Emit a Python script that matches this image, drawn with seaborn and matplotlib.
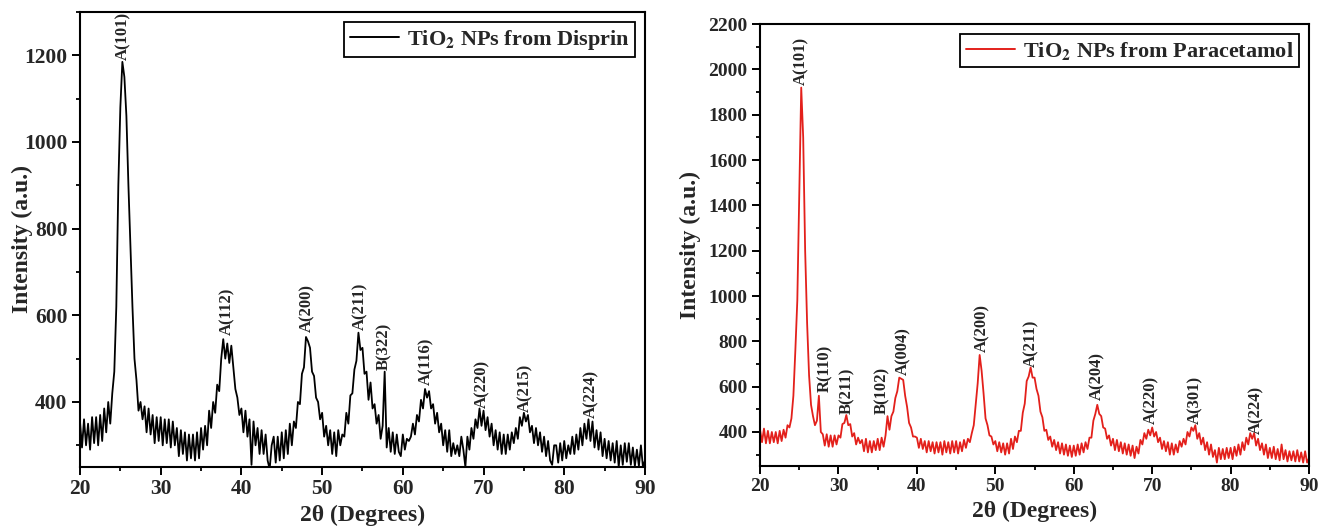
import matplotlib.pyplot as plt
import seaborn as sns
import numpy as np
import pandas as pd

# XRD patterns of TiO2 NPs, values every 0.25 degree (20 -> 90)
two_theta = np.linspace(20, 90, 281)

disprin = [
    355, 295, 360, 300,  350, 290, 365, 305,  365, 300, 370, 310,  385, 330, 400, 350,   # 20-23
    420, 470, 620, 900,  1080, 1185, 1150, 1060,  900, 760, 620, 500,  450, 380, 400, 360,  # 24-27
    390, 330, 385, 325,  370, 305, 365, 310,  365, 300, 360, 305,  360, 295, 355, 300,   # 28-31
    340, 275, 335, 280,  330, 265, 325, 270,  325, 265, 330, 270,  340, 290, 345, 300,   # 32-35
    380, 340, 400, 375,  440, 425, 500, 545,  500, 535, 490, 530,  480, 430, 410, 370,   # 36-39
    385, 330, 380, 320,  360, 255, 355, 300,  340, 280, 335, 280,  325, 265, 245, 300,   # 40-43
    320, 260, 320, 265,  330, 270, 335, 280,  350, 300, 355, 340,  400, 395, 465, 480,   # 44-47
    550, 540, 525, 470,  460, 410, 400, 360,  375, 320, 345, 300,  335, 280, 330, 275,   # 48-51
    335, 300, 325, 320,  375, 350, 415, 420,  475, 495, 560, 520,  525, 465, 470, 405,   # 52-55
    445, 385, 395, 350,  370, 315, 345, 470,  295, 340, 285, 330,  280, 325, 285, 275,   # 56-59
    325, 290, 315, 310,  320, 350, 325, 370,  355, 405, 385, 430,  410, 425, 385, 395,   # 60-63
    350, 375, 330, 350,  300, 335, 285, 335,  275, 305, 280, 300,  275, 320, 290, 250,   # 64-67
    320, 290, 340, 315,  360, 340, 385, 345,  380, 335, 365, 320,  350, 300, 335, 290,   # 68-71
    330, 280, 325, 280,  325, 290, 330, 305,  340, 315, 365, 345,  375, 355, 370, 330,   # 72-75
    345, 305, 340, 300,  330, 285, 320, 275,  310, 265, 255, 300,  300, 260, 305, 265,   # 76-79
    310, 270, 300, 280,  320, 280, 325, 290,  340, 300, 350, 315,  360, 310, 355, 295,   # 80-83
    335, 290, 330, 275,  315, 270, 310, 265,  305, 260, 310, 250,  300, 255, 305, 262,   # 84-87
    305, 255, 295, 252,  290, 252, 300, 250,  265,                                      # 88-90
]

paracetamol = [
    410, 355, 415, 350,  405, 350, 400, 355,  400, 350, 405, 360,  410, 375, 430, 420,   # 20-23
    460, 560, 760, 980,  1450, 1920, 1700, 1200,  880, 650, 520, 470,  430, 450, 560, 400,  # 24-27
    390, 340, 390, 335,  385, 335, 385, 345,  385, 375, 435, 440,  475, 430, 435, 380,   # 28-31
    395, 345, 375, 350,  365, 315, 370, 310,  360, 310, 360, 320,  370, 320, 375, 335,   # 32-35
    385, 470, 410, 470,  490, 550, 580, 640,  635, 630, 560, 510,  440, 420, 380, 380,   # 36-39
    375, 330, 370, 325,  360, 310, 360, 315,  355, 305, 355, 310,  355, 300, 360, 310,   # 40-43
    355, 305, 360, 310,  360, 305, 355, 315,  365, 330, 370, 355,  395, 430, 525, 615,   # 44-47
    740, 670, 570, 460,  430, 385, 380, 345,  360, 315, 355, 310,  350, 300, 350, 305,   # 48-51
    370, 325, 380, 355,  405, 405, 485, 525,  625, 645, 685, 640,  640, 590, 560, 490,   # 52-55
    465, 405, 410, 365,  380, 335, 365, 320,  355, 305, 350, 300,  345, 295, 340, 290,   # 56-59
    340, 295, 345, 300,  350, 310, 355, 325,  375, 375, 450, 480,  520, 480, 470, 420,   # 60-63
    415, 370, 385, 340,  370, 320, 365, 315,  355, 305, 350, 300,  345, 295, 340, 285,   # 64-67
    335, 305, 365, 345,  395, 370, 410, 385,  420, 380, 400, 355,  375, 325, 360, 315,   # 68-71
    355, 300, 350, 300,  345, 310, 360, 335,  370, 345, 400, 380,  420, 405, 430, 370,   # 72-75
    395, 345, 375, 320,  355, 300, 345, 290,  320, 265, 330, 280,  325, 280, 330, 285,   # 76-79
    330, 280, 335, 295,  345, 300, 355, 320,  375, 345, 395, 370,  395, 340, 370, 320,   # 80-83
    350, 300, 345, 285,  330, 285, 335, 280,  325, 275, 345, 280,  320, 270, 315, 275,   # 84-87
    315, 270, 320, 270,  310, 265, 315, 265,  285,                                      # 88-90
]

# peak labels: (text, 2theta, intensity at label foot)
disprin_peaks = [("A(101)", 25.4, 1190), ("A(112)", 38.2, 555), ("A(200)", 48.1, 562),
                 ("A(211)", 54.7, 566), ("B(322)", 57.7, 473), ("A(116)", 62.9, 440),
                 ("A(220)", 69.9, 385), ("A(215)", 75.2, 377), ("A(224)", 83.3, 363)]
paracetamol_peaks = [("A(101)", 25.3, 1930), ("R(110)", 28.3, 577), ("B(211)", 31.1, 481),
                     ("B(102)", 35.6, 481), ("A(004)", 38.3, 650), ("A(200)", 48.3, 753),
                     ("A(211)", 54.6, 687), ("A(204)", 63.0, 540), ("A(220)", 69.9, 437),
                     ("A(301)", 75.5, 437), ("A(224)", 83.3, 393)]

df = pd.DataFrame({'two_theta': two_theta, 'disprin': disprin, 'paracetamol': paracetamol})

sns.set_theme(style='ticks')
plt.rcParams['font.family'] = ['Liberation Serif', 'DejaVu Serif']
plt.rcParams['font.weight'] = 'bold'
plt.rcParams['mathtext.fontset'] = 'stix'

fig = plt.figure(figsize=(13.2, 5.26), dpi=100)
ax1 = fig.add_axes([0.0606, 0.1122, 0.428, 0.865])
ax2 = fig.add_axes([0.5758, 0.1141, 0.4159, 0.840])

panels = [
    (ax1, 'disprin', 'black', r'TiO$_\mathbf{2}$ NPs from Disprin', disprin_peaks,
     (250, 1300), 15.5, -0.083),
    (ax2, 'paracetamol', '#e3201b', r'TiO$_\mathbf{2}$ NPs from Paracetamol', paracetamol_peaks,
     (250, 2200), 14, -0.107),
]

for ax, col, color, label, peaks, ylim, tick_fs, ylab_x in panels:
    sns.lineplot(data=df, x='two_theta', y=col, ax=ax, color=color, lw=1.3,
                 estimator=None, label=label)
    for txt, px, py in peaks:
        ax.text(px, py, txt, rotation=90, ha='center', va='bottom',
                fontsize=12, fontweight='bold')
    ax.set_xlim(20, 90)
    ax.set_ylim(*ylim)
    ax.set_xticks(np.arange(20, 91, 10))
    ax.set_xticks(np.arange(25, 90, 10), minor=True)
    ax.set_yticks(np.arange(400, ylim[1] + 1, 200))
    ax.set_yticks(np.arange(300, ylim[1] + 1, 100), minor=True)
    ax.tick_params(axis='both', which='major', direction='out', length=6, width=1.4,
                   labelsize=tick_fs, color='black', pad=3)
    ax.tick_params(axis='both', which='minor', direction='out', length=3, width=1.3, color='black')
    for lab in ax.get_xticklabels() + ax.get_yticklabels():
        lab.set_fontweight('bold')
    for sp in ax.spines.values():
        sp.set_visible(True)
        sp.set_linewidth(1.5)
        sp.set_color('black')
    ax.set_xlabel('2θ (Degrees)', fontsize=17, fontweight='bold', labelpad=4)
    ax.set_ylabel('Intensity (a.u.)', fontsize=17, fontweight='bold')
    ax.yaxis.set_label_coords(ylab_x, 0.5)
    leg = ax.legend(loc='upper right', fontsize=16, frameon=True, fancybox=False,
                    edgecolor='black', framealpha=1, handlelength=2.2,
                    borderaxespad=0.45, borderpad=0.25, handletextpad=0.35)
    leg.get_frame().set_linewidth(1.3)
    for line in leg.get_lines():
        line.set_linewidth(1.4)
    for t in leg.get_texts():
        t.set_fontweight('bold')

fig.savefig('out.png', dpi=100)
